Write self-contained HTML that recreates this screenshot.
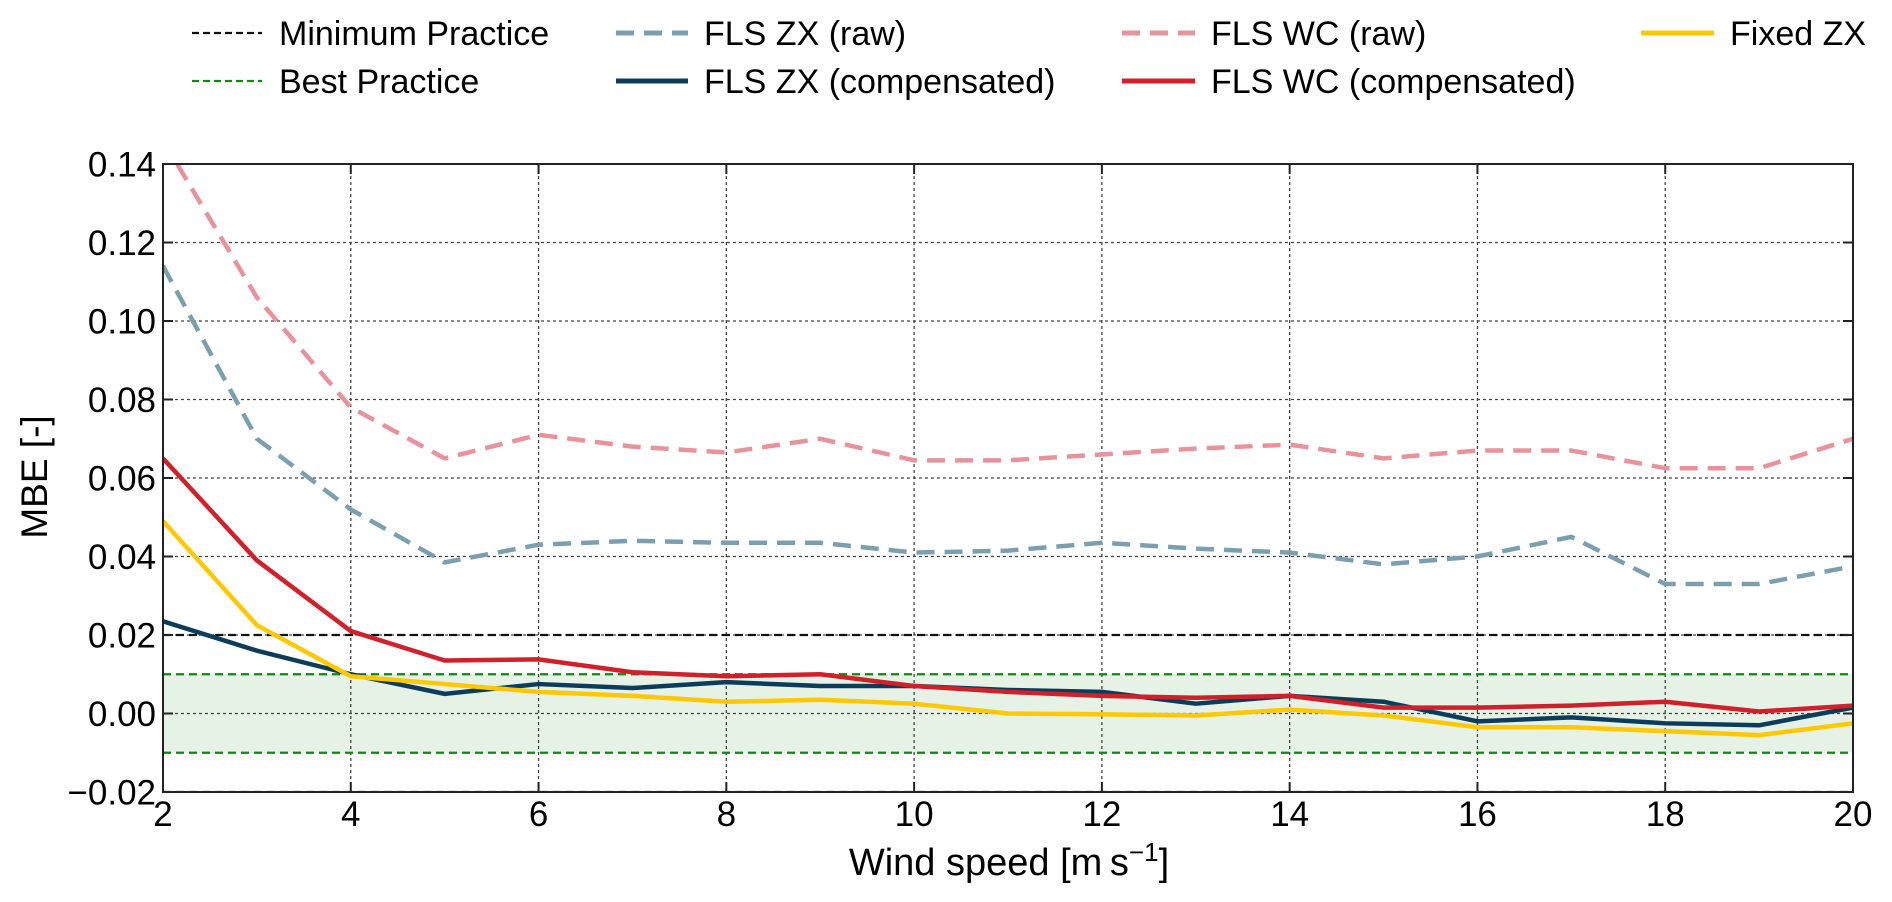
<!DOCTYPE html>
<html><head><meta charset="utf-8"><style>
html,body{margin:0;padding:0;background:#fff;}
svg{display:block;font-family:"Liberation Sans",Arial,sans-serif;}
</style></head><body>
<svg id="chart" width="1892" height="902" viewBox="0 0 1892 902">
<defs><clipPath id="plotclip"><rect x="163" y="164" width="1690" height="628"/></clipPath></defs>
<g id="grid"></g>
<g id="series" clip-path="url(#plotclip)"></g>
<g id="axes"></g>
<g id="legend"></g>
</svg>
<script>
const windSpeed = [2,3,4,5,6,7,8,9,10,11,12,13,14,15,16,17,18,19,20];
const flsWcRaw  = [0.146,0.106,0.078,0.065,0.071,0.068,0.0665,0.070,0.0645,0.0645,0.066,0.0675,0.0685,0.065,0.067,0.067,0.0625,0.0625,0.070];
const flsZxRaw  = [0.114,0.070,0.052,0.0385,0.043,0.044,0.0435,0.0435,0.041,0.0415,0.0435,0.042,0.041,0.038,0.040,0.045,0.033,0.033,0.0375];
const flsWcComp = [0.065,0.039,0.021,0.0135,0.0138,0.0105,0.0095,0.010,0.007,0.0055,0.0045,0.004,0.0045,0.0015,0.0015,0.002,0.003,0.0005,0.002];
const flsZxComp = [0.0235,0.016,0.010,0.005,0.0075,0.0065,0.008,0.007,0.007,0.006,0.0055,0.0025,0.0045,0.003,-0.002,-0.001,-0.0025,-0.003,0.0015];
const fixedZx   = [0.049,0.0225,0.0095,0.0075,0.0055,0.0045,0.003,0.0035,0.0025,0.0,-0.0002,-0.0005,0.001,-0.0005,-0.0035,-0.0035,-0.0045,-0.0055,-0.0025];
const xTicks = [2,4,6,8,10,12,14,16,18,20];
const yTicks = [-0.02,0.00,0.02,0.04,0.06,0.08,0.10,0.12,0.14];
const yTickLabels = ["\u22120.02","0.00","0.02","0.04","0.06","0.08","0.10","0.12","0.14"];
const minPractice = 0.02;
const bestPractice = 0.01;

const NS="http://www.w3.org/2000/svg";
const X0=163, X1=1853, Y0=792, Y1=164;
const xMin=2, xMax=20, yMin=-0.02, yMax=0.14;
function sx(v){return X0+(v-xMin)/(xMax-xMin)*(X1-X0);}
function sy(v){return Y0-(v-yMin)/(yMax-yMin)*(Y0-Y1);}
function mk(tag,attrs,parent){const e=document.createElementNS(NS,tag);for(const k in attrs)e.setAttribute(k,attrs[k]);parent.appendChild(e);return e;}
const grid=document.getElementById('grid'),series=document.getElementById('series'),axes=document.getElementById('axes'),legend=document.getElementById('legend');

let band=mk('rect',{x:X0,y:sy(bestPractice),width:X1-X0,height:sy(-bestPractice)-sy(bestPractice),fill:'#e5f2e5'},grid);



xTicks.forEach(t=>{
  let g=mk('line',{x1:sx(t),x2:sx(t),y1:Y1,y2:Y0,stroke:'#444','stroke-width':1.3,'stroke-dasharray':'3,3'},grid);
  
  
  mk('line',{x1:sx(t),x2:sx(t),y1:Y0,y2:Y0-10,stroke:'#222','stroke-width':2},axes);
  mk('line',{x1:sx(t),x2:sx(t),y1:Y1,y2:Y1+10,stroke:'#222','stroke-width':2},axes);
  let tx=mk('text',{x:sx(t),y:826,'font-size':35,'text-anchor':'middle',fill:'#000'},axes);
  tx.textContent=t;
  
  
});
yTicks.forEach((t,i)=>{
  let g=mk('line',{x1:X0,x2:X1,y1:sy(t),y2:sy(t),stroke:'#444','stroke-width':1.3,'stroke-dasharray':'3,3'},grid);
  
  
  mk('line',{x1:X0,x2:X0+10,y1:sy(t),y2:sy(t),stroke:'#222','stroke-width':2},axes);
  mk('line',{x1:X1,x2:X1-10,y1:sy(t),y2:sy(t),stroke:'#222','stroke-width':2},axes);
  let tx=mk('text',{x:156,y:sy(t)+12.5,'font-size':35,'text-anchor':'end',fill:'#000'},axes);
  tx.textContent=yTickLabels[i];
  
  
});

[[minPractice,'#111','min-practice-upper'],[-minPractice,'#111','min-practice-lower'],[bestPractice,'#118811','best-practice-upper'],[-bestPractice,'#118811','best-practice-lower']].forEach(d=>{
  let l=mk('line',{x1:X0,x2:X1,y1:sy(d[0]),y2:sy(d[0]),stroke:d[1],'stroke-width':2.2,'stroke-dasharray':'8,5'},series);
  
  
});

function drawLine(vals,color,dash,name){
  const pts=vals.map((v,i)=>sx(windSpeed[i])+','+sy(v)).join(' ');
  let p=mk('polyline',{points:pts,fill:'none',stroke:color,'stroke-width':4.5,'stroke-linejoin':'round'},series);
  if(dash)p.setAttribute('stroke-dasharray',dash);
  
  
}
drawLine(flsWcRaw,'#e8939b','18,10','fls-wc-raw-line');
drawLine(flsZxRaw,'#7aa0b0','18,10','fls-zx-raw-line');
drawLine(flsZxComp,'#0b3d5a',null,'fls-zx-compensated-line');
drawLine(fixedZx,'#ffc800',null,'fixed-zx-line');
drawLine(flsWcComp,'#d0202a',null,'fls-wc-compensated-line');

let fr=mk('rect',{x:X0,y:Y1,width:X1-X0,height:Y0-Y1,fill:'none',stroke:'#222','stroke-width':2},axes);



let xl=mk('text',{x:1009,y:875,'font-size':38,'text-anchor':'middle',fill:'#000'},axes);
xl.innerHTML='Wind speed [m\u2009s<tspan dy="-14" font-size="26">\u22121</tspan><tspan dy="14">]</tspan>';


let yl=mk('text',{x:0,y:0,'font-size':37,'text-anchor':'middle',fill:'#000',transform:'translate(47,477) rotate(-90)'},axes);
yl.textContent='MBE [-]';



const legItems=[
 [192,262,279,33,'#111',2.2,'7,4','Minimum Practice'],
 [192,262,279,81,'#118811',2.2,'7,4','Best Practice'],
 [616,688,704,33,'#7aa0b0',5,'18,10','FLS ZX (raw)'],
 [616,688,704,81,'#0b3d5a',5,null,'FLS ZX (compensated)'],
 [1122,1195,1211,33,'#e8939b',5,'18,10','FLS WC (raw)'],
 [1122,1195,1211,81,'#d0202a',5,null,'FLS WC (compensated)'],
 [1641,1714,1730,33,'#ffc800',5,null,'Fixed ZX']
];
legItems.forEach(d=>{
  let g=mk('g',{},legend);
  
  
  let l=mk('line',{x1:d[0],x2:d[1],y1:d[3],y2:d[3],stroke:d[4],'stroke-width':d[5]},g);
  if(d[6])l.setAttribute('stroke-dasharray',d[6]);
  let t=mk('text',{x:d[2],y:d[3]+12,'font-size':34,fill:'#000'},g);
  t.textContent=d[7];
});
</script>
</body></html>
